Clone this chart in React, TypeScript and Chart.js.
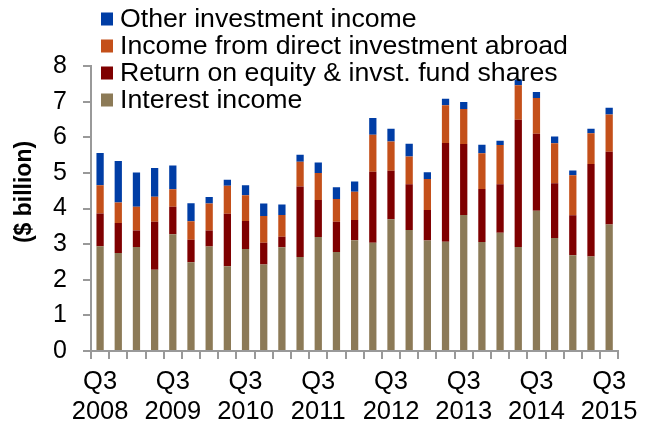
import React, { useEffect, useRef } from "react";
import { Chart, registerables } from "chart.js";

Chart.register(...registerables);

const categories = [
  "Q3 2008", "Q4 2008",
  "Q1 2009", "Q2 2009", "Q3 2009", "Q4 2009",
  "Q1 2010", "Q2 2010", "Q3 2010", "Q4 2010",
  "Q1 2011", "Q2 2011", "Q3 2011", "Q4 2011",
  "Q1 2012", "Q2 2012", "Q3 2012", "Q4 2012",
  "Q1 2013", "Q2 2013", "Q3 2013", "Q4 2013",
  "Q1 2014", "Q2 2014", "Q3 2014", "Q4 2014",
  "Q1 2015", "Q2 2015", "Q3 2015",
];

const interestIncome = [
  2.94, 2.75, 2.92, 2.28, 3.28, 2.49, 2.93, 2.38, 2.86, 2.43,
  2.91, 2.64, 3.2, 2.78, 3.11, 3.04, 3.7, 3.4, 3.1, 3.07,
  3.82, 3.06, 3.32, 2.92, 3.94, 3.17, 2.69, 2.65, 3.55,
];
const returnOnEquity = [
  0.92, 0.84, 0.46, 1.35, 0.77, 0.63, 0.45, 1.47, 0.79, 0.61,
  0.3, 1.98, 1.04, 0.85, 0.57, 1.99, 1.36, 1.28, 0.86, 2.77,
  1.99, 1.49, 1.36, 3.57, 2.16, 1.54, 1.12, 2.6, 2.04,
];
const directInvestment = [
  0.79, 0.58, 0.67, 0.7, 0.49, 0.52, 0.76, 0.79, 0.72, 0.75,
  0.61, 0.69, 0.76, 0.64, 0.79, 1.04, 0.82, 0.78, 0.87, 1.06,
  0.98, 1.0, 1.1, 0.97, 1.0, 1.12, 1.12, 0.86, 1.05,
];
const otherInvestment = [
  0.91, 1.16, 0.96, 0.81, 0.67, 0.51, 0.18, 0.17, 0.28, 0.35,
  0.29, 0.2, 0.29, 0.33, 0.29, 0.47, 0.36, 0.36, 0.19, 0.18,
  0.2, 0.24, 0.12, 0.16, 0.17, 0.19, 0.14, 0.13, 0.19,
];

const seriesNames = [
  "Interest income",
  "Return on equity & invst. fund shares",
  "Income from direct investment abroad",
  "Other investment income",
];
const seriesColors = ["#8C7A57", "#7F0000", "#C4501A", "#003DA5"];
const yTitle = "($ billion)";

const FONT = "'Liberation Sans', Arial, sans-serif";

const overlayPlugin = {
  id: "overlay",
  afterDraw(chart: any) {
    const ctx = chart.ctx;
    ctx.save();
    const rows = chart.data.datasets.map((d: any) => d).reverse();
    ctx.font = `26.7px ${FONT}`;
    ctx.textBaseline = "middle";
    ctx.textAlign = "left";
    rows.forEach((d: any, i: number) => {
      const cy = 19 + i * 27;
      ctx.fillStyle = d.backgroundColor;
      ctx.fillRect(101, cy - 6.5, 12, 13);
      ctx.fillStyle = "#000";
      ctx.fillText(d.label, 120, cy + 1);
    });
    ctx.translate(25, 192);
    ctx.rotate(-Math.PI / 2);
    ctx.font = `bold 23px ${FONT}`;
    ctx.textAlign = "center";
    ctx.textBaseline = "middle";
    ctx.fillStyle = "#000";
    ctx.fillText(yTitle, 0, 0);
    ctx.restore();
  },
};

export default function App() {
  const ref = useRef<HTMLCanvasElement | null>(null);
  useEffect(() => {
    if (!ref.current) return;
    const values = [interestIncome, returnOnEquity, directInvestment, otherInvestment];
    const chart = new Chart(ref.current, {
      type: "bar",
      data: {
        labels: categories,
        datasets: values.map((v, i) => ({
          label: seriesNames[i],
          data: v,
          backgroundColor: seriesColors[i],
          borderWidth: 0,
          categoryPercentage: 1,
          barPercentage: 0.4,
        })),
      },
      options: {
        responsive: false,
        animation: false,
        layout: { padding: { top: 66, right: 27, bottom: 0, left: 0 } },
        plugins: { legend: { display: false }, tooltip: { enabled: false } },
        scales: {
          x: {
            stacked: true,
            offset: true,
            grid: {
              offset: true,
              drawOnChartArea: false,
              drawTicks: true,
              tickLength: 8,
              color: "#999",
              lineWidth: 2,
            },
            border: { color: "#999", width: 2 },
            ticks: {
              autoSkip: false,
              maxRotation: 0,
              minRotation: 0,
              padding: 8,
              color: "#000",
              font: { family: FONT, size: 25.5, lineHeight: 1.18 },
              callback: (_v: any, idx: number) =>
                idx % 4 === 0 ? categories[idx].split(" ") : "",
            },
            afterFit: (s: any) => {
              s.height = 74;
            },
          },
          y: {
            stacked: true,
            min: 0,
            max: 8,
            grid: {
              drawOnChartArea: false,
              drawTicks: true,
              tickLength: 8,
              color: "#999",
              lineWidth: 2,
            },
            border: { color: "#999", width: 2 },
            ticks: {
              stepSize: 1,
              padding: 16,
              color: "#000",
              font: { family: FONT, size: 25 },
            },
            afterFit: (s: any) => {
              s.width = 91;
            },
          },
        },
      },
      plugins: [overlayPlugin],
    });
    return () => chart.destroy();
  }, []);
  return (
    <div style={{ position: "fixed", left: 0, top: 0, width: 646, height: 425, background: "#fff" }}>
      <canvas ref={ref} width={646} height={425} style={{ width: 646, height: 425 }} />
    </div>
  );
}
